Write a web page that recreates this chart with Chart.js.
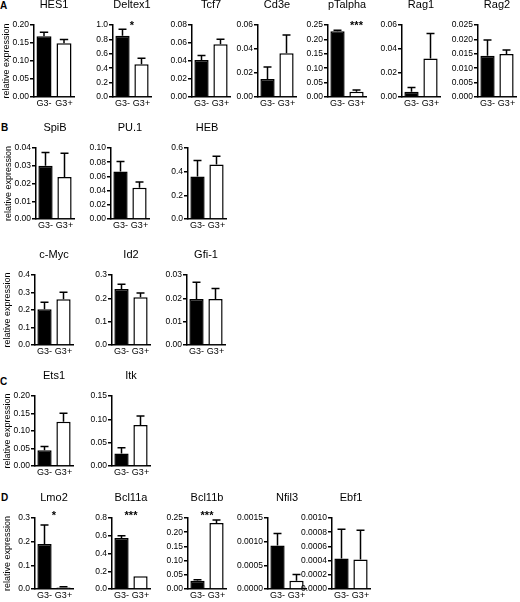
<!DOCTYPE html>
<html>
<head>
<meta charset="utf-8">
<script src="https://cdn.jsdelivr.net/npm/chart.js@4.4.1/dist/chart.umd.min.js"></script>
<style>
  html, body { margin: 0; padding: 0; background: #fff; }
  body { width: 520px; height: 602px; position: relative; overflow: hidden; font-family: "Liberation Sans", Arial, sans-serif; }
  canvas { position: absolute; }
  .letter { position: absolute; font-weight: bold; font-size: 10px; line-height: 10px; color: #000; }
</style>
</head>
<body>
<div class="letter" style="left:0px;top:1px">A</div>
<div class="letter" style="left:1px;top:123px">B</div>
<div class="letter" style="left:0px;top:377px">C</div>
<div class="letter" style="left:1px;top:493px">D</div>
<script>
// data
const groups = ['G3-', 'G3+'];
const genes = ['HES1', 'Deltex1', 'Tcf7', 'Cd3e', 'pTalpha', 'Rag1', 'Rag2',
  'SpiB', 'PU.1', 'HEB', 'c-Myc', 'Id2', 'Gfi-1', 'Ets1', 'Itk',
  'Lmo2', 'Bcl11a', 'Bcl11b', 'Nfil3', 'Ebf1'];
const meanNeg = [0.169, 0.85, 0.041, 0.015, 0.228, 0.0044, 0.0143,
  0.030, 0.067, 0.36, 0.204, 0.24, 0.0197, 0.045, 0.027,
  0.19, 0.575, 0.029, 0.00092, 0.00043];
const errNeg = [0.011, 0.09, 0.005, 0.010, 0.004, 0.0035, 0.0055,
  0.0075, 0.014, 0.135, 0.04, 0.02, 0.0072, 0.011, 0.012,
  0.08, 0.025, 0.004, 0.00025, 0.00041];
const meanPos = [0.149, 0.454, 0.0586, 0.0364, 0.0185, 0.032, 0.0149,
  0.0236, 0.044, 0.46, 0.261, 0.205, 0.0197, 0.1266, 0.088,
  0.006, 0.145, 0.232, 0.000176, 0.000417];
const errPos = [0.011, 0.085, 0.0055, 0.0153, 0.0055, 0.021, 0.0014,
  0.0135, 0.008, 0.07, 0.04, 0.018, 0.0045, 0.024, 0.019,
  0.003, 0, 0.011, 0.00013, 0.00041];
const axisMax = [0.20, 1.0, 0.08, 0.06, 0.25, 0.06, 0.025,
  0.04, 0.10, 0.6, 0.4, 0.3, 0.03, 0.20, 0.15,
  0.3, 0.8, 0.25, 0.0015, 0.0010];
const axisStep = [0.05, 0.2, 0.02, 0.02, 0.05, 0.02, 0.005,
  0.01, 0.02, 0.2, 0.1, 0.1, 0.01, 0.05, 0.05,
  0.1, 0.2, 0.05, 0.0005, 0.0002];
const tickDecimals = [2, 1, 2, 2, 2, 2, 3, 2, 2, 1, 1, 1, 2, 2, 2, 1, 1, 2, 4, 4];
const sigLabel = ['', '*', '', '', '***', '', '', '', '', '', '', '', '', '', '',
  '*', '***', '***', '', ''];
const sigAt = [0.5, 0.5, 0.5, 0.5, 1, 0.5, 0.5, 0.5, 0.5, 0.5, 0.5, 0.5, 0.5, 0.5, 0.5,
  0.5, 0.5, 0.5, 0.5, 0.5];

// layout of the small panels
const rows = {
  A:  { top: 25,  bottom: 97,  starDy: 4 },
  B1: { top: 148, bottom: 219, starDy: 2 },
  B2: { top: 275, bottom: 345, starDy: 2 },
  C:  { top: 396, bottom: 466, starDy: 2 },
  D:  { top: 518, bottom: 589, starDy: 1 }
};
const panelRow = ['A', 'A', 'A', 'A', 'A', 'A', 'A', 'B1', 'B1', 'B1', 'B2', 'B2', 'B2',
  'C', 'C', 'D', 'D', 'D', 'D', 'D'];
const panelX = [34, 113, 192, 258, 328, 402, 478, 36, 111, 188, 35, 112, 187,
  35, 112, 35, 112, 188, 268, 332];
const firstCol = ['HES1', 'SpiB', 'c-Myc', 'Ets1', 'Lmo2'];

const FONT = '"Liberation Sans", Arial, Helvetica, sans-serif';
const YW = 35;       // y axis width
const TITLE_H = 28;  // title block height
const XH = 16;       // x axis height
const RP = 3;

const errorBars = {
  id: 'errbars',
  afterDatasetsDraw(chart, args, opts) {
    const {ctx, chartArea} = chart;
    const x = chart.scales.x, y = chart.scales.y;
    const meta = chart.getDatasetMeta(0);
    const vals = chart.data.datasets[0].data;
    ctx.save();
    ctx.strokeStyle = '#000';
    ctx.lineWidth = 1.5;
    meta.data.forEach((bar, k) => {
      const e = opts.errs[k];
      if (!e) return;
      const yTop = y.getPixelForValue(vals[k] + e);
      const cap = bar.width * 0.28;
      ctx.beginPath();
      ctx.moveTo(bar.x, bar.y);
      ctx.lineTo(bar.x, yTop);
      ctx.moveTo(bar.x - cap, yTop);
      ctx.lineTo(bar.x + cap, yTop);
      ctx.stroke();
    });
    if (opts.sig) {
      const x0 = x.getPixelForValue(0), x1 = x.getPixelForValue(1);
      ctx.fillStyle = '#000';
      ctx.font = 'bold 11px ' + FONT;
      ctx.textAlign = 'center';
      ctx.textBaseline = 'alphabetic';
      ctx.fillText(opts.sig, x0 + (x1 - x0) * opts.at, chartArea.top + opts.dy);
    }
    ctx.restore();
  }
};

genes.forEach((gene, i) => {
  const row = rows[panelRow[i]];
  const plotW = i === 0 ? 40 : 38;
  const w = YW + plotW + RP;
  const h = TITLE_H + (row.bottom - row.top) + XH;
  const canvas = document.createElement('canvas');
  canvas.width = w;
  canvas.height = h;
  canvas.style.left = (panelX[i] - YW) + 'px';
  canvas.style.top = (row.top - TITLE_H) + 'px';
  canvas.style.width = w + 'px';
  canvas.style.height = h + 'px';
  document.body.appendChild(canvas);

  const dec = tickDecimals[i];
  new Chart(canvas, {
    type: 'bar',
    data: {
      labels: groups,
      datasets: [{
        data: [meanNeg[i], meanPos[i]],
        backgroundColor: ['#000', '#fff'],
        borderColor: '#000',
        borderWidth: 1.5,
        barPercentage: 0.75,
        categoryPercentage: 1
      }]
    },
    options: {
      responsive: false,
      animation: false,
      devicePixelRatio: 1,
      layout: { padding: { left: 0, right: RP, top: 0, bottom: 0 } },
      plugins: {
        legend: { display: false },
        tooltip: { enabled: false },
        title: {
          display: true,
          text: gene,
          color: '#000',
          fullSize: false,
          font: { size: 11, family: FONT, weight: 'normal', lineHeight: 1 },
          padding: { top: 2, bottom: 15 }
        },
        errbars: { errs: [errNeg[i], errPos[i]], sig: sigLabel[i], at: sigAt[i], dy: row.starDy }
      },
      scales: {
        x: {
          grid: { display: false, drawTicks: false },
          border: { display: true, color: '#000', width: 1.5 },
          ticks: { color: '#000', font: { size: 9, family: FONT }, padding: 1, maxRotation: 0, autoSkip: false },
          afterFit: s => { s.height = XH; }
        },
        y: {
          min: 0,
          max: axisMax[i],
          grid: { display: true, drawOnChartArea: false, drawTicks: true, tickLength: 4,
                  tickWidth: 1.5, tickColor: '#000', color: '#000', lineWidth: 1.5 },
          border: { display: true, color: '#000', width: 1.5 },
          ticks: {
            stepSize: axisStep[i],
            color: '#000',
            font: { size: 8.5, family: FONT },
            padding: 1,
            callback: v => Number(v).toFixed(dec)
          },
          title: {
            display: firstCol.includes(gene),
            text: 'relative expression',
            color: '#000',
            font: { size: 9, family: FONT },
            padding: { top: 2, bottom: 0 }
          },
          afterFit: s => { s.width = YW; }
        }
      }
    },
    plugins: [errorBars]
  });
});
</script>
</body>
</html>
